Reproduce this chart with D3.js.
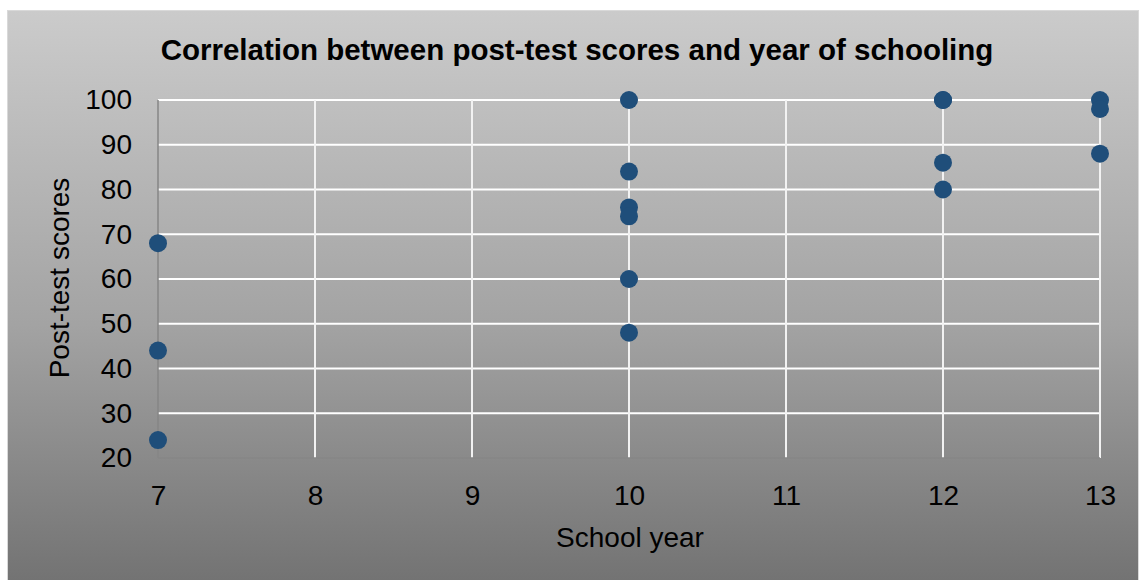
<!DOCTYPE html>
<html>
<head>
<meta charset="utf-8">
<script src="https://cdn.jsdelivr.net/npm/d3@7"></script>
<style>
  html, body { margin: 0; padding: 0; background: #ffffff; }
  svg { display: block; font-family: "Liberation Sans", Arial, sans-serif; }
</style>
</head>
<body>
<svg id="chart" width="1140" height="580"></svg>
<script>
// School year of each student and the post-test score they reached
const schoolYears = [7, 7, 7, 10, 10, 10, 10, 10, 10, 12, 12, 12, 12, 13, 13, 13];
const postTestScores = [68, 44, 24, 100, 84, 76, 74, 60, 48, 100, 100, 86, 80, 100, 98, 88];
const xTicks = [7, 8, 9, 10, 11, 12, 13];
const yTicks = [20, 30, 40, 50, 60, 70, 80, 90, 100];

const title = "Correlation between post-test scores and year of schooling";
const xTitle = "School year";
const yTitle = "Post-test scores";

const svg = d3.select("#chart");
const W = 1140, H = 580;
const plot = { left: 158, right: 1100, top: 100, bottom: 458 };
const FONT = "'Liberation Sans', Arial, sans-serif";

// grey gradient backdrop of the chart area
const defs = svg.append("defs");
const grad = defs.append("linearGradient")
  .attr("id", "bg").attr("x1", 0).attr("y1", 0).attr("x2", 0).attr("y2", 1);
grad.append("stop").attr("offset", "0%").attr("stop-color", "#cbcbcb");
grad.append("stop").attr("offset", "55%").attr("stop-color", "#a3a3a3");
grad.append("stop").attr("offset", "100%").attr("stop-color", "#737373");

svg.append("rect")
  .attr("x", 7.5).attr("y", 10.5).attr("width", W - 9).attr("height", H - 10)
  .attr("fill", "url(#bg)").attr("stroke", "#d9d9d9").attr("stroke-width", 1);

const x = d3.scaleLinear().domain([7, 13]).range([plot.left, plot.right]);
const y = d3.scaleLinear().domain([20, 100]).range([plot.bottom, plot.top]);

// gridlines
svg.append("g")
  .selectAll("line")
  .data(yTicks.filter(d => d > 20))
  .join("line")
  .attr("x1", plot.left).attr("x2", plot.right)
  .attr("y1", d => y(d)).attr("y2", d => y(d))
  .attr("stroke", "#ffffff").attr("stroke-width", 2);

svg.append("g")
  .selectAll("line")
  .data(xTicks.filter(d => d > 7))
  .join("line")
  .attr("x1", d => x(d)).attr("x2", d => x(d))
  .attr("y1", plot.top).attr("y2", plot.bottom)
  .attr("stroke", "#f2f2f2").attr("stroke-width", 2);

// axis lines
svg.append("line")
  .attr("x1", plot.left).attr("x2", plot.left)
  .attr("y1", plot.top).attr("y2", plot.bottom)
  .attr("stroke", "#868686").attr("stroke-width", 1.5);
svg.append("line")
  .attr("x1", plot.left).attr("x2", plot.right)
  .attr("y1", plot.bottom).attr("y2", plot.bottom)
  .attr("stroke", "#868686").attr("stroke-width", 1.5);

// tick labels via d3 axes with hidden tick lines
const yAxis = svg.append("g")
  .attr("transform", `translate(${plot.left},0)`)
  .call(d3.axisLeft(y).tickValues(yTicks).tickFormat(d3.format("d")).tickSize(0).tickPadding(26));
const xAxis = svg.append("g")
  .attr("transform", `translate(0,${plot.bottom})`)
  .call(d3.axisBottom(x).tickValues(xTicks).tickFormat(d3.format("d")).tickSize(0).tickPadding(27));
[yAxis, xAxis].forEach(g => {
  g.select(".domain").remove();
  g.attr("font-size", 28).attr("font-family", FONT);
  g.selectAll("text").attr("fill", "#000");
});

// data points
svg.append("g")
  .selectAll("circle")
  .data(schoolYears.map((d, i) => ({ year: d, score: postTestScores[i] })))
  .join("circle")
  .attr("cx", d => x(d.year))
  .attr("cy", d => y(d.score))
  .attr("r", 9)
  .attr("fill", "#1f4e7a");

// titles
svg.append("text")
  .attr("x", 577).attr("y", 60)
  .attr("text-anchor", "middle")
  .attr("font-size", 29.5).attr("font-weight", "bold")
  .text(title);

svg.append("text")
  .attr("x", 630).attr("y", 547)
  .attr("text-anchor", "middle")
  .attr("font-size", 28)
  .text(xTitle);

svg.append("text")
  .attr("transform", `translate(69,278) rotate(-90)`)
  .attr("text-anchor", "middle")
  .attr("font-size", 28)
  .text(yTitle);
</script>
</body>
</html>
